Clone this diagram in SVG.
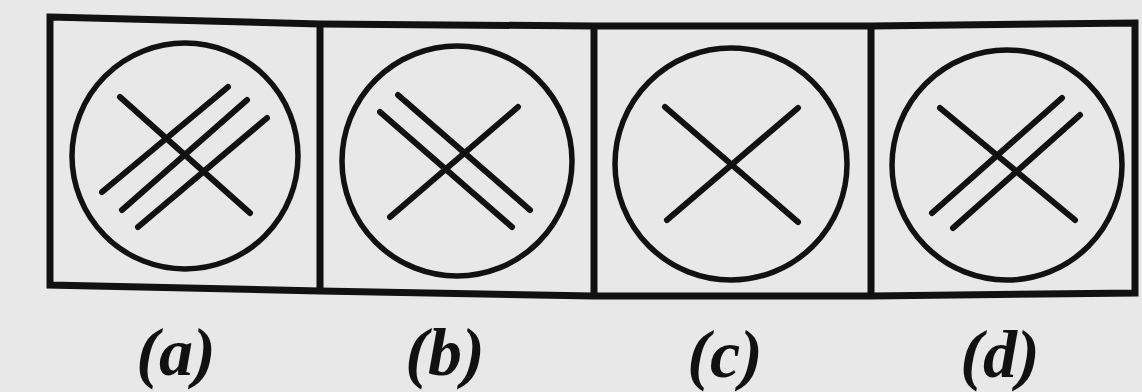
<svg xmlns="http://www.w3.org/2000/svg" width="1142" height="392" viewBox="0 0 1142 392">
<style>
.frame{fill:none;stroke:#111;stroke-width:7;stroke-linejoin:miter}
.ring{fill:none;stroke:#111;stroke-width:5.5}
.ln{stroke:#111;stroke-width:6;stroke-linecap:round}
.lbl{font-family:"Liberation Serif",serif;font-style:italic;font-weight:bold;font-size:68px;fill:#111;text-anchor:middle}
</style>
<rect width="1142" height="392" fill="#e8e8e8"/>
<g id="frame">
<polygon class="frame" points="50,17 320,24 594,26 871,26 1135,23 1135,293 871,296 594,296 320,291 50,285" fill="#ececec"/>
<line class="frame" x1="320" y1="24" x2="320" y2="291"/>
<line class="frame" x1="594" y1="26" x2="594" y2="296"/>
<line class="frame" x1="871" y1="26" x2="871" y2="296"/>
</g>
<g id="option-a">
<circle class="ring" cx="185" cy="156" r="113"/>
<line class="ln" x1="120" y1="97" x2="250" y2="213"/>
<line class="ln" x1="228" y1="87" x2="102" y2="192"/>
<line class="ln" x1="247" y1="100" x2="122" y2="210"/>
<line class="ln" x1="267" y1="118" x2="138" y2="227"/>
</g>
<g id="option-b">
<circle class="ring" cx="457" cy="161" r="115"/>
<line class="ln" x1="518" y1="107" x2="390" y2="217"/>
<line class="ln" x1="380" y1="112" x2="512" y2="227"/>
<line class="ln" x1="398" y1="95" x2="530" y2="210"/>
</g>
<g id="option-c">
<circle class="ring" cx="731" cy="164" r="116"/>
<line class="ln" x1="665" y1="107" x2="798" y2="222"/>
<line class="ln" x1="798" y1="108" x2="667" y2="220"/>
</g>
<g id="option-d">
<circle class="ring" cx="1007" cy="165" r="115"/>
<line class="ln" x1="940" y1="108" x2="1075" y2="220"/>
<line class="ln" x1="1062" y1="98" x2="932" y2="213"/>
<line class="ln" x1="1080" y1="115" x2="953" y2="228"/>
</g>
<g id="connectors"></g>
<g id="labels">
<text class="lbl" x="176" y="375">(a)</text>
<text class="lbl" x="445" y="375">(b)</text>
<text class="lbl" x="725" y="377">(c)</text>
<text class="lbl" x="1000" y="377">(d)</text>
</g>
</svg>
